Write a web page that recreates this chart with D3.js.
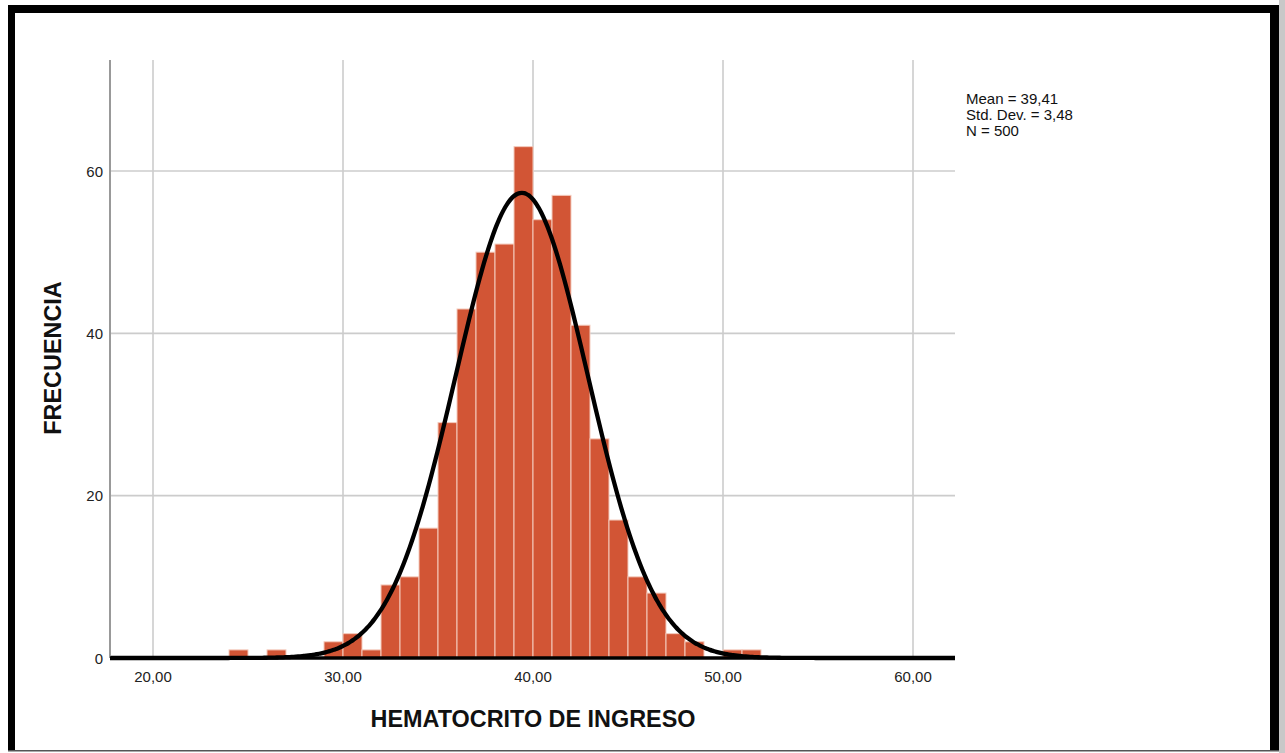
<!DOCTYPE html>
<html><head><meta charset="utf-8">
<script src="https://cdn.jsdelivr.net/npm/d3@7"></script>
<style>html,body{margin:0;padding:0;background:#fff;}svg{display:block;}</style>
</head><body>
<svg id="c" width="1285" height="753"></svg>
<script>
const binStarts = [24,26,29,30,31,32,33,34,35,36,37,38,39,40,41,42,43,44,45,46,47,48,50,51];
const binCounts = [1,1,2,3,1,9,10,16,29,43,50,51,63,54,57,41,27,17,10,8,3,2,1,1];
const binWidth = 1;
const xTicks = [20,30,40,50,60];
const yTicks = [0,20,40,60];
const stats = {mean:39.41, sd:3.48, n:500};
const legendLines = ["Mean = 39,41","Std. Dev. = 3,48","N = 500"];

const svg = d3.select("#c");
const W=1285,H=753;
svg.append("rect").attr("width",W).attr("height",H).attr("fill","#fff");
// frame
svg.append("rect").attr("x",1279).attr("y",0).attr("width",6).attr("height",H).attr("fill","#c8c8c8");
svg.append("rect").attr("x",8).attr("y",5).attr("width",1271).attr("height",8).attr("fill","#000");
svg.append("rect").attr("x",8).attr("y",5).attr("width",7).attr("height",746).attr("fill","#000");
svg.append("rect").attr("x",1270).attr("y",5).attr("width",9).attr("height",746).attr("fill","#000");
svg.append("rect").attr("x",8).attr("y",750).attr("width",1271).attr("height",1.5).attr("fill","#555");

const L=110,R=955,T=60,B=658;
const xs = d3.scaleLinear().domain([20,60]).range([153,913]);
const ys = d3.scaleLinear().domain([0,60]).range([B,171]);
const font = "'Liberation Sans', Arial, sans-serif";

// grid
svg.append("g").selectAll("line").data(xTicks).join("line")
  .attr("x1",d=>xs(d)).attr("x2",d=>xs(d)).attr("y1",T).attr("y2",B)
  .attr("stroke","#cccccc").attr("stroke-width",1.6);
svg.append("g").selectAll("line").data(yTicks.filter(d=>d>0)).join("line")
  .attr("x1",L).attr("x2",R).attr("y1",d=>ys(d)).attr("y2",d=>ys(d))
  .attr("stroke","#cccccc").attr("stroke-width",1.6);

// bars
svg.append("g").selectAll("rect").data(binStarts.map((s,i)=>({s,c:binCounts[i]}))).join("rect")
  .attr("x",d=>xs(d.s)).attr("width",d=>xs(d.s+binWidth)-xs(d.s))
  .attr("y",d=>ys(d.c)).attr("height",d=>ys(0)-ys(d.c))
  .attr("fill","#d25535").attr("stroke","#f4cbbd").attr("stroke-width",1);

// normal curve
const dom = [xs.invert(L), xs.invert(R)];
const pts = d3.range(0,401).map(i=>dom[0]+(dom[1]-dom[0])*i/400);
const pdf = v => stats.n*binWidth/(stats.sd*Math.sqrt(2*Math.PI))*Math.exp(-0.5*((v-stats.mean)/stats.sd)**2);
svg.append("path").datum(pts)
  .attr("d",d3.line().x(d=>xs(d)).y(d=>ys(pdf(d))).curve(d3.curveBasis))
  .attr("fill","none").attr("stroke","#000").attr("stroke-width",4.3);

// axes lines
svg.append("line").attr("x1",L).attr("x2",L).attr("y1",T).attr("y2",B)
  .attr("stroke","#999").attr("stroke-width",2);
svg.append("line").attr("x1",L).attr("x2",R).attr("y1",B).attr("y2",B)
  .attr("stroke","#000").attr("stroke-width",3.5);

// tick labels
svg.append("g").selectAll("text").data(xTicks).join("text")
  .attr("x",d=>xs(d)).attr("y",682).attr("text-anchor","middle")
  .attr("font-family",font).attr("font-size",15).attr("fill","#222")
  .text(d=>d3.format(".2f")(d).replace(".",","));
svg.append("g").selectAll("text").data(yTicks).join("text")
  .attr("x",103).attr("y",d=>ys(d)+5.5).attr("text-anchor","end")
  .attr("font-family",font).attr("font-size",15).attr("fill","#222")
  .text(d=>d);

// axis titles
svg.append("text").attr("x",533).attr("y",727).attr("text-anchor","middle")
  .attr("font-family",font).attr("font-size",23.4).attr("font-weight","bold").attr("fill","#111")
  .text("HEMATOCRITO DE INGRESO");
svg.append("text").attr("transform","translate(61,358) rotate(-90)").attr("text-anchor","middle")
  .attr("font-family",font).attr("font-size",23.4).attr("font-weight","bold").attr("fill","#111")
  .text("FRECUENCIA");

// legend
svg.append("g").selectAll("text").data(legendLines).join("text")
  .attr("x",966).attr("y",(d,i)=>103.5+i*16)
  .attr("font-family",font).attr("font-size",15).attr("fill","#111")
  .text(d=>d);
</script>
</body></html>
